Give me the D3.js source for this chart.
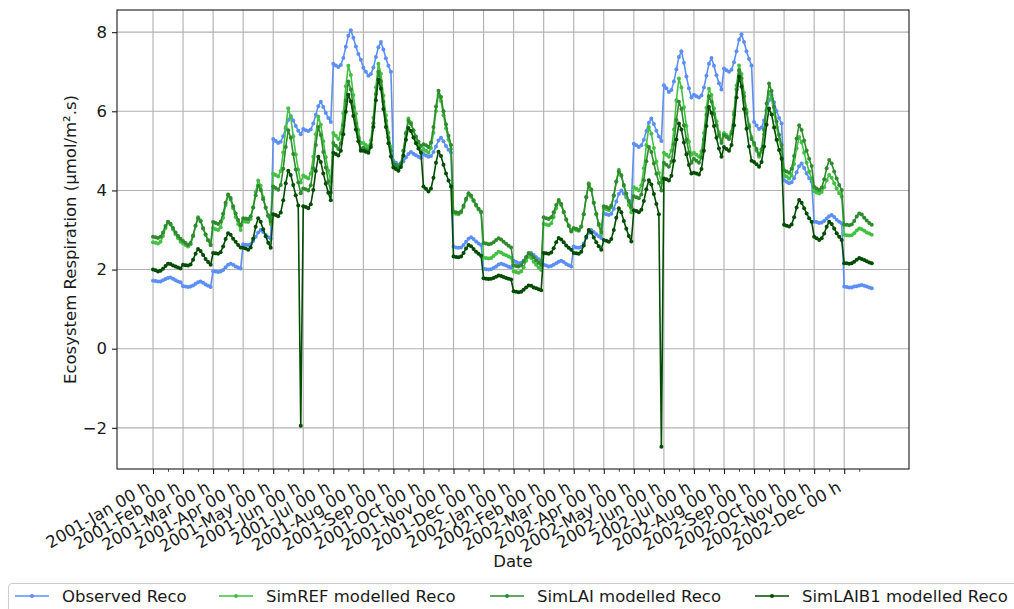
<!DOCTYPE html>
<html>
<head>
<meta charset="utf-8">
<script src="https://cdn.jsdelivr.net/npm/d3@7"></script>
<style>
  html, body { margin: 0; padding: 0; background: #fff; }
  svg { display: block; }
  text { font-family: "DejaVu Sans", sans-serif; fill: #1a1a1a; }
</style>
</head>
<body>
<svg id="chart" width="1014" height="609"></svg>
<script>
// ---------------- DATA ----------------
const monthLabels = [
  "2001-Jan 00 h","2001-Feb 00 h","2001-Mar 00 h","2001-Apr 00 h","2001-May 00 h","2001-Jun 00 h",
  "2001-Jul 00 h","2001-Aug 00 h","2001-Sep 00 h","2001-Oct 00 h","2001-Nov 00 h","2001-Dec 00 h",
  "2002-Jan 00 h","2002-Feb 00 h","2002-Mar 00 h","2002-Apr 00 h","2002-May 00 h","2002-Jun 00 h",
  "2002-Jul 00 h","2002-Aug 00 h","2002-Sep 00 h","2002-Oct 00 h","2002-Nov 00 h","2002-Dec 00 h"
];
const hoursSampled = [0,2,4,6,8,10,12,14,16,18,20,22];
const yTickValues = [-2,0,2,4,6,8];

// one row per month (mean diurnal cycle), values in µmol/m².s
const observedReco = [
  [1.72,1.71,1.70,1.70,1.73,1.76,1.79,1.80,1.77,1.73,1.70,1.68],
  [1.58,1.57,1.56,1.57,1.60,1.64,1.68,1.70,1.67,1.62,1.59,1.56],
  [1.96,1.95,1.94,1.95,1.99,2.06,2.12,2.15,2.12,2.08,2.05,2.03],
  [2.64,2.63,2.62,2.64,2.72,2.83,2.94,3.00,2.95,2.88,2.82,2.78],
  [5.30,5.25,5.20,5.23,5.37,5.57,5.78,5.88,5.77,5.63,5.51,5.42],
  [5.55,5.52,5.50,5.54,5.69,5.91,6.13,6.24,6.11,5.96,5.83,5.73],
  [7.20,7.16,7.12,7.17,7.35,7.63,7.91,8.05,7.86,7.64,7.45,7.30],
  [7.10,7.00,6.90,6.94,7.11,7.37,7.62,7.75,7.56,7.34,7.15,7.00],
  [4.75,4.70,4.65,4.67,4.73,4.83,4.92,4.97,4.93,4.89,4.85,4.82],
  [4.92,4.88,4.85,4.87,4.97,5.11,5.26,5.33,5.24,5.12,5.03,4.95],
  [2.58,2.56,2.55,2.56,2.62,2.70,2.78,2.82,2.77,2.71,2.66,2.62],
  [2.02,2.01,2.00,2.01,2.04,2.08,2.13,2.15,2.13,2.10,2.07,2.05],
  [2.22,2.19,2.16,2.17,2.23,2.30,2.38,2.42,2.37,2.31,2.26,2.22],
  [2.12,2.10,2.08,2.09,2.12,2.16,2.20,2.22,2.19,2.14,2.11,2.08],
  [2.58,2.56,2.55,2.57,2.66,2.80,2.93,3.00,2.95,2.89,2.84,2.80],
  [3.42,3.40,3.38,3.41,3.54,3.72,3.91,4.00,3.92,3.82,3.74,3.67],
  [5.18,5.14,5.10,5.14,5.28,5.50,5.71,5.82,5.68,5.51,5.36,5.25],
  [6.66,6.58,6.49,6.54,6.75,7.06,7.37,7.52,7.23,6.88,6.58,6.35],
  [6.42,6.38,6.35,6.40,6.60,6.90,7.20,7.35,7.15,6.91,6.71,6.55],
  [7.08,7.04,7.00,7.05,7.24,7.52,7.81,7.95,7.75,7.52,7.32,7.16],
  [5.73,5.64,5.55,5.59,5.77,6.02,6.28,6.41,6.23,6.01,5.83,5.69],
  [4.26,4.22,4.18,4.21,4.31,4.46,4.61,4.68,4.57,4.43,4.31,4.22],
  [3.21,3.20,3.18,3.19,3.23,3.29,3.35,3.38,3.33,3.26,3.21,3.17],
  [1.57,1.56,1.55,1.55,1.57,1.58,1.60,1.61,1.59,1.57,1.55,1.53]
];

const simREF = [
  [2.69,2.68,2.66,2.70,2.85,3.05,3.20,3.14,3.01,2.89,2.79,2.70],
  [2.66,2.62,2.58,2.64,2.84,3.11,3.32,3.24,3.05,2.89,2.74,2.62],
  [3.05,3.02,3.00,3.07,3.31,3.63,3.88,3.77,3.55,3.33,3.15,3.00],
  [3.22,3.21,3.20,3.28,3.57,3.96,4.25,4.12,3.83,3.57,3.34,3.15],
  [4.42,4.39,4.35,4.49,4.96,5.60,6.08,5.85,5.37,4.91,4.52,4.20],
  [4.38,4.34,4.30,4.43,4.85,5.42,5.86,5.66,5.24,4.84,4.50,4.22],
  [5.45,5.38,5.30,5.45,5.95,6.63,7.15,6.92,6.41,5.94,5.53,5.20],
  [5.20,5.15,5.10,5.27,5.84,6.61,7.20,6.95,6.40,5.90,5.46,5.10],
  [4.62,4.59,4.55,4.65,4.99,5.46,5.82,5.72,5.51,5.31,5.14,5.00],
  [5.05,5.00,4.95,5.07,5.46,6.01,6.42,6.26,5.90,5.57,5.28,5.05],
  [3.42,3.41,3.40,3.44,3.58,3.76,3.90,3.84,3.73,3.61,3.52,3.44],
  [2.30,2.29,2.28,2.29,2.34,2.40,2.45,2.43,2.39,2.36,2.33,2.30],
  [1.95,1.94,1.92,1.95,2.06,2.22,2.33,2.29,2.20,2.12,2.05,1.99],
  [3.15,3.14,3.12,3.17,3.33,3.55,3.72,3.63,3.45,3.27,3.12,3.00],
  [3.02,3.00,2.98,3.08,3.40,3.84,4.18,4.03,3.69,3.39,3.12,2.90],
  [3.55,3.53,3.50,3.58,3.86,4.23,4.52,4.39,4.11,3.86,3.63,3.45],
  [4.08,4.04,4.00,4.13,4.56,5.15,5.60,5.43,5.07,4.73,4.44,4.20],
  [4.95,4.90,4.85,5.01,5.54,6.28,6.83,6.60,6.10,5.63,5.23,4.90],
  [4.95,4.90,4.85,4.99,5.45,6.09,6.57,6.41,6.07,5.75,5.47,5.25],
  [5.45,5.40,5.35,5.49,5.98,6.65,7.16,6.94,6.47,6.04,5.66,5.35],
  [5.15,5.00,4.85,4.98,5.42,6.03,6.49,6.32,5.94,5.60,5.29,5.05],
  [4.39,4.35,4.30,4.38,4.67,5.06,5.35,5.22,4.95,4.70,4.48,4.30],
  [3.98,3.95,3.92,3.96,4.08,4.26,4.39,4.32,4.18,4.05,3.93,3.84],
  [2.88,2.87,2.86,2.87,2.92,2.99,3.04,3.02,2.98,2.94,2.91,2.88]
];

const simLAI = [
  [2.83,2.82,2.80,2.83,2.94,3.10,3.21,3.16,3.05,2.94,2.85,2.78],
  [2.72,2.67,2.62,2.67,2.86,3.11,3.30,3.22,3.04,2.88,2.74,2.62],
  [3.20,3.18,3.15,3.21,3.41,3.69,3.90,3.81,3.60,3.42,3.25,3.12],
  [3.30,3.29,3.28,3.35,3.57,3.88,4.12,4.01,3.78,3.56,3.37,3.22],
  [4.10,4.06,4.02,4.14,4.55,5.10,5.52,5.33,4.92,4.53,4.20,3.93],
  [4.05,4.03,4.00,4.13,4.56,5.15,5.60,5.40,4.97,4.58,4.23,3.95],
  [5.20,5.13,5.05,5.19,5.65,6.27,6.75,6.55,6.10,5.70,5.34,5.05],
  [5.08,5.04,5.00,5.16,5.70,6.44,7.00,6.76,6.24,5.76,5.34,5.00],
  [4.68,4.64,4.60,4.69,5.01,5.44,5.76,5.68,5.52,5.36,5.23,5.12],
  [5.17,5.14,5.10,5.21,5.60,6.12,6.52,6.36,6.00,5.67,5.38,5.15],
  [3.46,3.45,3.43,3.47,3.61,3.79,3.93,3.87,3.75,3.64,3.54,3.46],
  [2.67,2.66,2.64,2.65,2.69,2.75,2.79,2.76,2.70,2.65,2.60,2.56],
  [2.10,2.09,2.08,2.11,2.20,2.32,2.42,2.38,2.31,2.23,2.17,2.12],
  [3.32,3.30,3.28,3.32,3.45,3.63,3.76,3.66,3.46,3.26,3.10,2.96],
  [3.05,3.03,3.00,3.09,3.40,3.83,4.15,4.01,3.69,3.41,3.15,2.95],
  [3.60,3.58,3.55,3.62,3.88,4.22,4.48,4.37,4.14,3.92,3.73,3.58],
  [3.85,3.83,3.80,3.90,4.26,4.74,5.10,4.97,4.68,4.42,4.19,4.00],
  [4.70,4.65,4.60,4.73,5.17,5.78,6.24,6.06,5.65,5.29,4.96,4.70],
  [4.80,4.75,4.70,4.83,5.29,5.91,6.38,6.24,5.93,5.65,5.40,5.20],
  [5.40,5.35,5.30,5.44,5.91,6.55,7.04,6.83,6.38,5.96,5.60,5.30],
  [5.20,5.05,4.90,5.04,5.53,6.20,6.70,6.51,6.11,5.74,5.41,5.15],
  [4.51,4.48,4.45,4.55,4.87,5.31,5.65,5.53,5.26,5.01,4.80,4.62],
  [4.09,4.05,4.01,4.07,4.28,4.56,4.77,4.68,4.48,4.30,4.14,4.01],
  [3.13,3.13,3.12,3.14,3.23,3.34,3.42,3.39,3.31,3.24,3.18,3.13]
];

const simLAIB1 = [
  [2.00,1.98,1.95,1.97,2.02,2.09,2.15,2.14,2.10,2.08,2.05,2.03],
  [2.12,2.11,2.10,2.13,2.25,2.40,2.52,2.47,2.37,2.27,2.19,2.12],
  [2.42,2.41,2.40,2.44,2.58,2.77,2.92,2.88,2.78,2.70,2.62,2.56],
  [2.55,2.53,2.50,2.56,2.78,3.08,3.30,3.21,3.02,2.84,2.68,2.55],
  [3.40,3.38,3.35,3.44,3.75,4.18,4.50,4.39,4.14,3.88,3.62,-1.95],
  [3.60,3.58,3.55,3.65,4.01,4.49,4.85,4.72,4.43,4.17,3.94,3.75],
  [4.95,4.92,4.88,5.00,5.42,5.99,6.42,6.25,5.88,5.54,5.24,5.00],
  [5.00,4.98,4.95,5.10,5.60,6.28,6.80,6.57,6.06,5.60,5.19,4.86],
  [4.58,4.54,4.50,4.59,4.88,5.28,5.58,5.50,5.34,5.19,5.06,4.95],
  [4.10,4.04,3.97,4.05,4.32,4.70,4.98,4.87,4.65,4.43,4.25,4.10],
  [2.33,2.32,2.31,2.33,2.42,2.53,2.62,2.59,2.52,2.45,2.40,2.35],
  [1.78,1.77,1.76,1.77,1.79,1.82,1.85,1.84,1.81,1.79,1.77,1.75],
  [1.45,1.44,1.43,1.44,1.49,1.55,1.60,1.59,1.55,1.53,1.50,1.48],
  [2.42,2.41,2.40,2.43,2.54,2.69,2.80,2.76,2.69,2.61,2.55,2.50],
  [2.42,2.41,2.40,2.45,2.61,2.83,3.00,2.94,2.81,2.69,2.59,2.50],
  [2.75,2.73,2.70,2.77,3.00,3.31,3.55,3.45,3.23,3.03,2.85,2.71],
  [3.50,3.48,3.45,3.51,3.73,4.03,4.26,4.15,3.91,3.66,3.40,-2.48],
  [4.30,4.28,4.25,4.37,4.75,5.29,5.69,5.54,5.21,4.91,4.64,4.43],
  [4.45,4.43,4.40,4.54,5.00,5.63,6.11,5.96,5.63,5.33,5.06,4.85],
  [5.10,5.05,5.00,5.15,5.65,6.35,6.87,6.62,6.06,5.56,5.11,4.75],
  [4.72,4.66,4.60,4.72,5.11,5.66,6.07,5.92,5.59,5.28,5.02,4.80],
  [3.13,3.11,3.09,3.14,3.32,3.57,3.76,3.69,3.55,3.42,3.30,3.21],
  [2.83,2.79,2.75,2.79,2.91,3.08,3.21,3.15,3.04,2.92,2.83,2.75],
  [2.16,2.16,2.15,2.16,2.20,2.25,2.29,2.27,2.24,2.21,2.18,2.16]
];

const seriesNames = ["Observed Reco","SimREF modelled Reco","SimLAI modelled Reco","SimLAIB1 modelled Reco"];
const seriesColors = ["#5b8ff5","#41c041","#2e8b2e","#004c00"];

// ---------------- LAYOUT ----------------
const FS = 16.5;
const svg = d3.select("#chart");
const plot = {left: 117, right: 909, top: 10, bottom: 469};
const hoursPerMonth = 24;
const nHours = monthLabels.length * hoursPerMonth - 1; // 575
const xPad = nHours * 0.05;

const x = d3.scaleLinear().domain([-xPad, nHours + xPad]).range([plot.left, plot.right]);
const y = d3.scaleLinear().domain([-3.04, 8.56]).range([plot.bottom, plot.top]);

const majorTicks = monthLabels.map((_, i) => i * hoursPerMonth);
const minorTicks = monthLabels.map((_, i) => i * hoursPerMonth + 12);

// grid
const grid = svg.append("g");
grid.selectAll("line.vg").data(majorTicks).join("line")
  .attr("x1", d => x(d)).attr("x2", d => x(d))
  .attr("y1", plot.top).attr("y2", plot.bottom)
  .attr("stroke", "#b0b0b0").attr("stroke-width", 1.1);
grid.selectAll("line.hg").data(yTickValues).join("line")
  .attr("x1", plot.left).attr("x2", plot.right)
  .attr("y1", d => y(d)).attr("y2", d => y(d))
  .attr("stroke", "#b0b0b0").attr("stroke-width", 1.1);

// series
function toPoints(rows) {
  const pts = [];
  rows.forEach((row, m) => row.forEach((v, k) => pts.push({x: m * hoursPerMonth + hoursSampled[k], y: v})));
  return pts;
}
const allSeries = [observedReco, simREF, simLAI, simLAIB1];
const line = d3.line().x(d => x(d.x)).y(d => y(d.y));
allSeries.forEach((rows, i) => {
  const pts = toPoints(rows);
  const g = svg.append("g");
  g.append("path").datum(pts).attr("d", line)
    .attr("fill", "none").attr("stroke", seriesColors[i]).attr("stroke-width", 1.6)
    .attr("stroke-linejoin", "round");
  g.selectAll("circle").data(pts).join("circle")
    .attr("cx", d => x(d.x)).attr("cy", d => y(d.y)).attr("r", 2.0)
    .attr("fill", seriesColors[i]);
});

// axes
const fmtY = d => d < 0 ? "\u2212" + Math.abs(d) : String(d);
const yAxis = svg.append("g").attr("transform", `translate(${plot.left},0)`)
  .call(d3.axisLeft(y).tickValues(yTickValues).tickFormat(fmtY).tickSize(5).tickPadding(5));
yAxis.select(".domain").remove();
yAxis.selectAll("text").attr("font-size", FS).attr("font-family", "DejaVu Sans").attr("fill", "#1a1a1a");
yAxis.selectAll("line").attr("stroke", "#1a1a1a").attr("stroke-width", 1.1);

const xAxis = svg.append("g").attr("transform", `translate(0,${plot.bottom})`)
  .call(d3.axisBottom(x).tickValues(majorTicks).tickFormat("").tickSize(5));
xAxis.select(".domain").remove();
xAxis.selectAll("line").attr("stroke", "#1a1a1a").attr("stroke-width", 1.1);
const xMinor = svg.append("g").attr("transform", `translate(0,${plot.bottom})`)
  .call(d3.axisBottom(x).tickValues(minorTicks).tickFormat("").tickSize(2.8));
xMinor.select(".domain").remove();
xMinor.selectAll("line").attr("stroke", "#1a1a1a").attr("stroke-width", 0.8);

svg.append("g").selectAll("text").data(monthLabels).join("text")
  .attr("transform", (d, i) => `translate(${x(majorTicks[i]) - 2},${plot.bottom + 21.5}) rotate(-30)`)
  .attr("text-anchor", "end")
  .attr("font-size", FS)
  .text(d => d);

// frame
svg.append("rect").attr("x", plot.left).attr("y", plot.top)
  .attr("width", plot.right - plot.left).attr("height", plot.bottom - plot.top)
  .attr("fill", "none").attr("stroke", "#1a1a1a").attr("stroke-width", 1.1);

// axis labels
svg.append("text").attr("x", (plot.left + plot.right) / 2).attr("y", 567)
  .attr("text-anchor", "middle").attr("font-size", FS).text("Date");
svg.append("text").attr("transform", `translate(75.5,${(plot.top + plot.bottom) / 2}) rotate(-90)`)
  .attr("text-anchor", "middle").attr("font-size", FS).text("Ecosystem Respiration (µmol/m².s)");

// legend
const leg = svg.append("g");
leg.append("rect").attr("x", 8.5).attr("y", 583.5).attr("width", 1012).attr("height", 40).attr("rx", 4)
  .attr("fill", "#ffffff").attr("fill-opacity", 0.8).attr("stroke", "#cccccc").attr("stroke-width", 1.1);
const legX = [15, 219, 490, 755];
seriesNames.forEach((name, i) => {
  const g = leg.append("g");
  g.append("line").attr("x1", legX[i]).attr("x2", legX[i] + 34).attr("y1", 596).attr("y2", 596)
    .attr("stroke", seriesColors[i]).attr("stroke-width", 1.6);
  g.append("circle").attr("cx", legX[i] + 17).attr("cy", 596).attr("r", 2.0).attr("fill", seriesColors[i]);
  g.append("text").attr("x", legX[i] + 47).attr("y", 602).attr("font-size", FS).text(name);
});
</script>
</body>
</html>
